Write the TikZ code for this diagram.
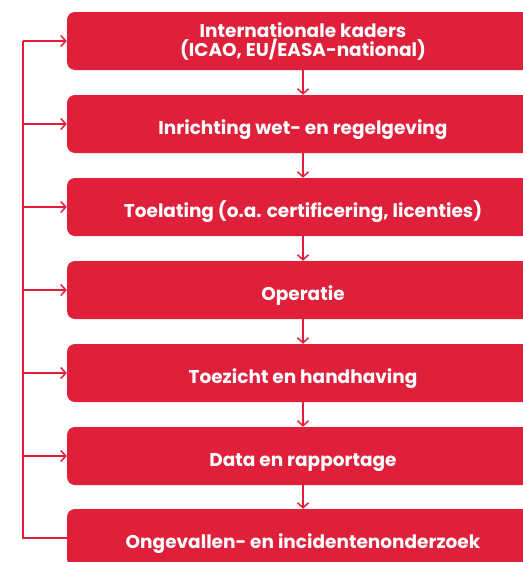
\documentclass[tikz,border=0pt]{standalone}
\usepackage{fontspec}
\setmainfont{Poppins}
\usetikzlibrary{arrows.meta}

\definecolor{ilentrood}{RGB}{224,31,58}

\begin{document}
\begin{tikzpicture}[x=1pt, y=1pt,
    stap/.style={fill=ilentrood, rounded corners=8pt, minimum width=472pt,
        minimum height=58pt, text=white, align=center,
        font=\fontsize{18.5}{17}\selectfont\bfseries},
    enkel/.style={stap, text height=21pt, text depth=0pt},
    lijn/.style={draw=ilentrood, line width=1.5pt},
    pijl/.style={lijn, -{Straight Barb[length=5pt, width=11pt]}}]
    % Kader van de afbeelding
    \useasboundingbox (0,0) rectangle (522,-562);

    % Stappen van boven naar beneden
    \node[stap, text height=31.4pt, text depth=0pt] (b1) at (303,-41)
        {Internationale kaders\\(ICAO, EU/EASA-national)};
    \node[enkel] (b2) at (303,-124) {Inrichting wet- en regelgeving};
    \node[enkel] (b3) at (303,-207) {Toelating (o.a. certificering, licenties)};
    \node[enkel] (b4) at (303,-290) {Operatie};
    \node[enkel] (b5) at (303,-373) {Toezicht en handhaving};
    \node[enkel] (b6) at (303,-456) {Data en rapportage};
    \node[enkel] (b7) at (303,-538) {Ongevallen- en incidentenonderzoek};

    % Pijlen naar beneden
    \foreach \i/\j in {1/2,2/3,3/4,4/5,5/6,6/7}
        \draw[pijl] (b\i.south) -- (b\j.north);

    % Terugkoppeling langs de linkerkant
    \coordinate (links) at (23,0);
    \draw[lijn] (b7.west) -- (links |- b7.west) -- (links |- b1.west);
    \foreach \i in {1,...,6}
        \draw[pijl] (links |- b\i.west) -- (b\i.west);
\end{tikzpicture}
\end{document}
